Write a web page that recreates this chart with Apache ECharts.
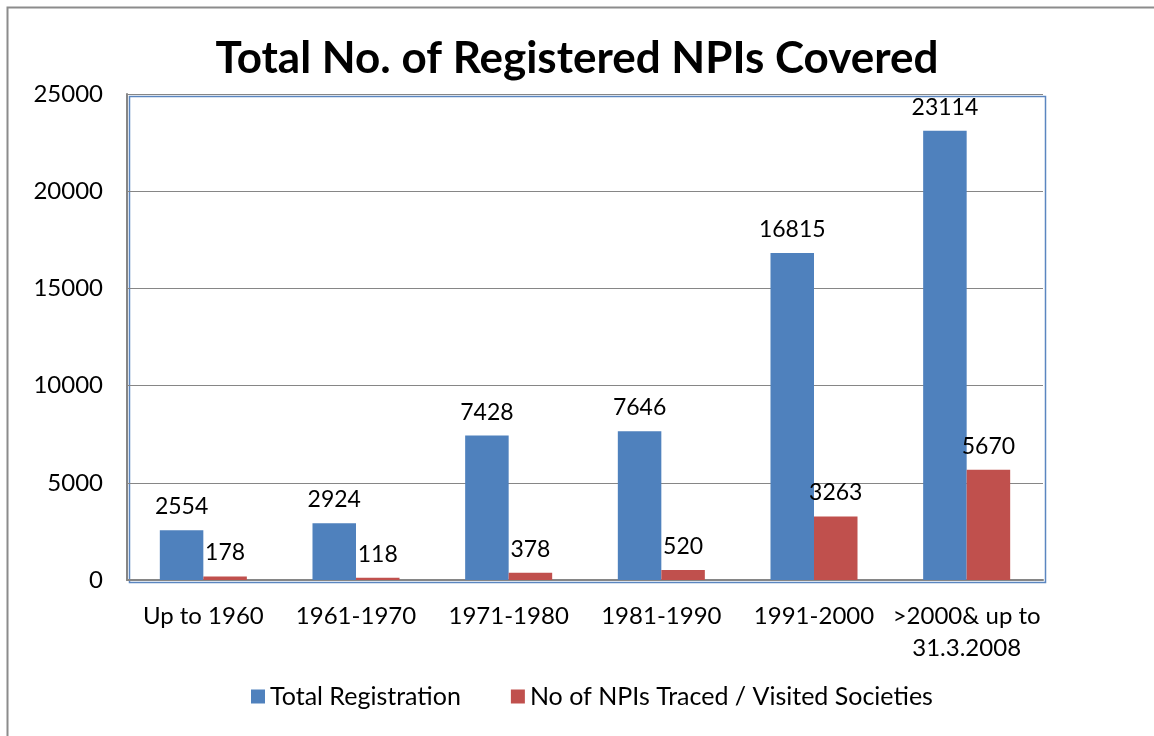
<!DOCTYPE html>
<html><head><meta charset="utf-8">
<script src="https://cdn.jsdelivr.net/npm/echarts@6/dist/echarts.min.js"></script>
<style>html,body{margin:0;padding:0;background:#fff}#c{width:1154px;height:736px}</style>
</head><body><div id="c"></div>
<script>
const categories = ['Up to 1960', '1961-1970', '1971-1980', '1981-1990', '1991-2000', '>2000& up to\n31.3.2008'];
const totalRegistration = [2554, 2924, 7428, 7646, 16815, 23114];
const npisTraced = [178, 118, 378, 520, 3263, 5670];
const seriesNames = ['Total Registration', 'No of NPIs Traced / Visited Societies'];
const FONT = 'Lato, "Open Sans", sans-serif';
const chart = echarts.init(document.getElementById('c'));
chart.setOption({
  animation: false,
  textStyle: {fontFamily: FONT},
  graphic: [{type: 'rect', left: 5, top: 5, shape: {width: 1170, height: 760}, style: {fill: 'none', stroke: '#8c8c8c', lineWidth: 2}, z: -1},
            {type: 'rect', left: 127, top: 94, shape: {width: 916, height: 486}, style: {fill: 'none', stroke: '#5b86c0', lineWidth: 1.5}, z: 0}],
  title: {text: 'Total No. of Registered NPIs Covered', left: 'center', top: 32,
    textStyle: {fontFamily: FONT, fontWeight: 'bold', fontSize: 44, color: '#000'}},
  legend: {bottom: 22, left: 246, itemWidth: 14, itemHeight: 14, itemGap: 50, icon: 'rect',
    textStyle: {fontFamily: FONT, fontSize: 25, color: '#000'}, data: seriesNames},
  grid: {left: 127, right: 111, top: 94, bottom: 156},
  xAxis: {type: 'category', data: categories,
    axisLine: {lineStyle: {color: '#868686', width: 2}}, axisTick: {show: false},
    axisLabel: {color: '#000', fontSize: 24, margin: 20, lineHeight: 32, interval: 0}},
  yAxis: {type: 'value', min: 0, max: 25000, interval: 5000,
    axisLine: {show: true, lineStyle: {color: '#868686', width: 2}}, axisTick: {show: false},
    splitLine: {lineStyle: {color: '#868686', width: 1}},
    axisLabel: {color: '#000', fontSize: 24, margin: 24, formatter: v => String(v)}},
  series: [
    {name: seriesNames[0], type: 'bar', data: totalRegistration, barGap: 0, barCategoryGap: '43%',
     itemStyle: {color: '#4f81bd'},
     label: {show: true, position: 'top', distance: 12, color: '#000', fontSize: 23}},
    {name: seriesNames[1], type: 'bar', data: npisTraced,
     itemStyle: {color: '#c0504d'},
     label: {show: true, position: 'top', distance: 12, color: '#000', fontSize: 23}}
  ]
});
</script></body></html>
